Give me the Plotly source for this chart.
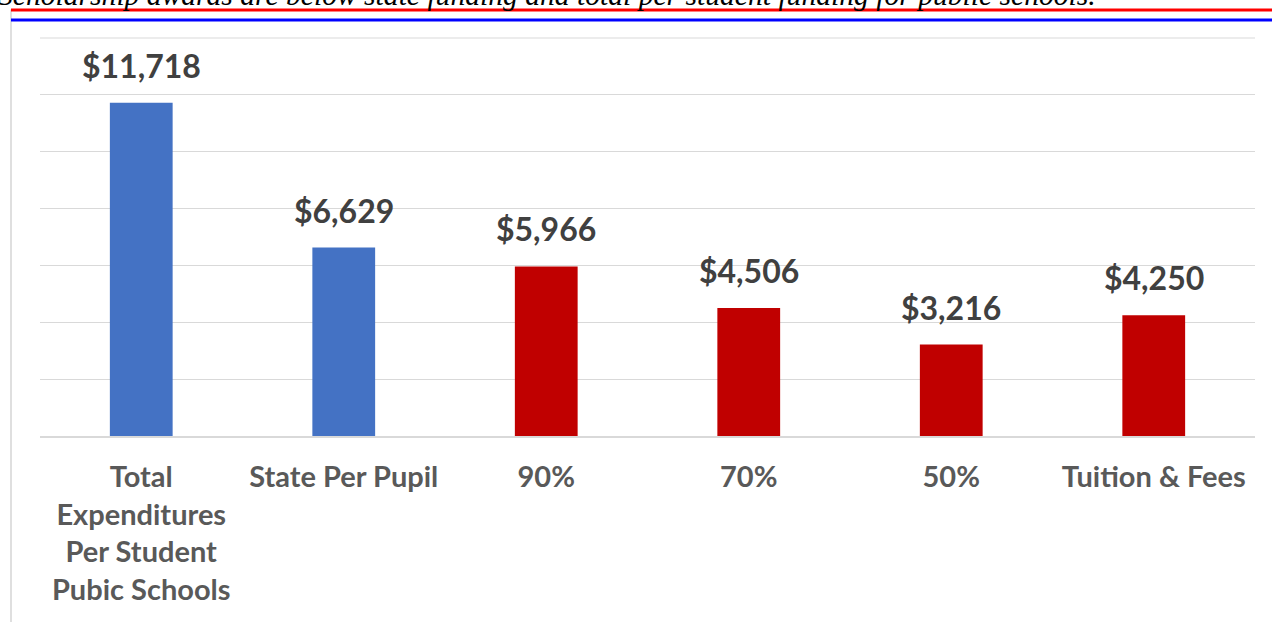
import plotly.graph_objects as go

categories = ["Total<br>Expenditures<br>Per Student<br>Pubic Schools", "State Per Pupil", "90%", "70%", "50%", "Tuition & Fees"]
values = [11718, 6629, 5966, 4506, 3216, 4250]
value_labels = ["$11,718", "$6,629", "$5,966", "$4,506", "$3,216", "$4,250"]
bar_colors = ["#4472C4", "#4472C4", "#C00000", "#C00000", "#C00000", "#C00000"]
title_text = "Scholarship awards are below state funding and total per student funding for public schools."

W, H = 1272, 622
L, R, T, B = 40, 17, 38, 186
pw, ph = W - L - R, H - T - B

def px_x(px):
    return (px - L) / pw

def px_y(py):
    return (H - B - py) / ph

fig = go.Figure()
fig.add_trace(go.Bar(x=categories, y=values, marker=dict(color=bar_colors, line=dict(width=0)), hoverinfo="skip"))

for c, v, t in zip(categories, values, value_labels):
    fig.add_annotation(x=c, y=v, text=t, showarrow=False, yanchor="bottom", yshift=16,
                       font=dict(family="Lato", size=32, color="#404040", weight="bold"))

fig.add_annotation(xref="paper", yref="paper", x=px_x(-3), y=px_y(-4.5), xanchor="left", yanchor="middle",
                   text="<i>" + title_text + "</i>", showarrow=False, bgcolor="rgba(0,0,0,0)",
                   borderwidth=0, font=dict(family="Liberation Serif", size=29.6, color="#000000"))

# chart frame (left and top edges)
fig.add_shape(type="line", xref="paper", yref="paper", x0=px_x(11), x1=px_x(11), y0=px_y(9.5), y1=px_y(660),
              line=dict(color="#D4D4D4", width=1.5), layer="above")
fig.add_shape(type="line", xref="paper", yref="paper", x0=px_x(11), x1=px_x(1300), y0=px_y(10), y1=px_y(10),
              line=dict(color="#FF0000", width=3), layer="above")
fig.add_shape(type="line", xref="paper", yref="paper", x0=px_x(11), x1=px_x(1300), y0=px_y(20), y1=px_y(20),
              line=dict(color="#0000FF", width=3), layer="above")
# top gridline at the range edge
fig.add_shape(type="line", xref="paper", yref="paper", x0=0, x1=1, y0=1, y1=1,
              line=dict(color="#D9D9D9", width=1), layer="below")

fig.update_layout(
    width=W, height=H,
    margin=dict(l=L, r=R, t=T, b=B),
    paper_bgcolor="white", plot_bgcolor="white",
    bargap=0.69, showlegend=False,
    xaxis=dict(showline=True, linecolor="#D9D9D9", linewidth=2, ticks="", ticklabelstandoff=14,
               tickfont=dict(family="Lato", size=29, color="#595959", weight="bold"), tickangle=0),
    yaxis=dict(range=[0, 14000], dtick=2000, showgrid=True, gridcolor="#D9D9D9", gridwidth=1,
               showticklabels=False, zeroline=False),
)
fig.write_html("out.html", config={"displayModeBar": False},
               post_script="document.body.style.margin='0';document.body.style.overflow='hidden';")
